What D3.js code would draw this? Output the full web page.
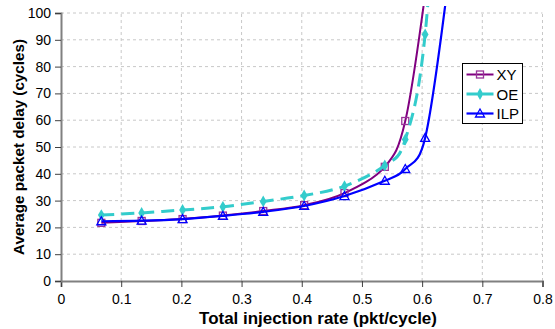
<!DOCTYPE html>
<html>
<head>
<meta charset="utf-8">
<script src="https://cdn.jsdelivr.net/npm/d3@7"></script>
<style>
  body { margin: 0; background: #fff; }
  svg { font-family: "Liberation Sans", Arial, sans-serif; }
  .tick text { font-size: 14px; fill: #000; }
  .axis-title { font-size: 14px; font-weight: bold; }
</style>
</head>
<body>
<div id="chart"></div>
<script>
// injection rates (pkt/cycle) at which the delays were measured
const rates = [0.067, 0.134, 0.202, 0.269, 0.336, 0.404, 0.471, 0.538, 0.572, 0.605, 0.639];
const xyDelay = [21.7, 22.4, 23.1, 24.4, 26.1, 28.3, 32.8, 42.6, 59.7, 107, null];
const oeDelay = [24.6, 25.4, 26.5, 27.7, 29.7, 31.9, 35.4, 43.1, 52.8, 92, 200];
const ilpDelay = [22.3, 22.5, 23.1, 24.3, 25.8, 28.0, 31.7, 37.4, 41.8, 53.4, 104];
const seriesNames = ['XY', 'OE', 'ILP'];
const xTicks = [0, 0.1, 0.2, 0.3, 0.4, 0.5, 0.6, 0.7, 0.8];
const yTicks = [0, 10, 20, 30, 40, 50, 60, 70, 80, 90, 100];

const width = 555, height = 329;
const margin = { top: 13, right: 12.5, bottom: 48, left: 61 };

const svg = d3.select('#chart').append('svg')
  .attr('width', width)
  .attr('height', height);

const x = d3.scaleLinear().domain([0, 0.8]).range([margin.left, width - margin.right]);
const y = d3.scaleLinear().domain([0, 100]).range([height - margin.bottom, margin.top]);

// dashed grid
svg.append('g')
  .selectAll('line')
  .data(xTicks.slice(1))
  .enter().append('line')
  .attr('x1', d => x(d)).attr('x2', d => x(d))
  .attr('y1', y(0)).attr('y2', y(100))
  .attr('stroke', '#c8c8c8').attr('stroke-dasharray', '3,3');

svg.append('g')
  .selectAll('line')
  .data(yTicks.slice(1))
  .enter().append('line')
  .attr('x1', x(0)).attr('x2', x(0.8))
  .attr('y1', d => y(d)).attr('y2', d => y(d))
  .attr('stroke', '#c8c8c8').attr('stroke-dasharray', '3,3');

// axes
const xAxis = svg.append('g')
  .attr('transform', `translate(0,${y(0)})`)
  .call(d3.axisBottom(x).tickValues(xTicks).tickFormat(d => d === 0 ? '0' : d3.format('.1f')(d)).tickSize(6).tickPadding(7));
const yAxis = svg.append('g')
  .attr('transform', `translate(${x(0)},0)`)
  .call(d3.axisLeft(y).tickValues(yTicks).tickSize(6).tickPadding(4));
[xAxis, yAxis].forEach(a => {
  a.select('.domain').attr('stroke', '#808080').attr('stroke-width', 2);
  a.selectAll('.tick line').attr('stroke', '#404040');
});

// axis titles, sized to the span they take in the original
function fitText(sel, target) {
  const w = sel.node().getComputedTextLength();
  if (w > 0) sel.style('font-size', (14 * target / w).toFixed(2) + 'px');
}

const xTitle = svg.append('text')
  .attr('class', 'axis-title')
  .attr('x', 318).attr('y', 324)
  .attr('text-anchor', 'middle')
  .text('Total injection rate (pkt/cycle)');
fitText(xTitle, 238);

const yTitle = svg.append('text')
  .attr('class', 'axis-title')
  .attr('transform', `translate(24,${(y(0) + y(100)) / 2}) rotate(-90)`)
  .attr('text-anchor', 'middle')
  .text('Average packet delay (cycles)');
fitText(yTitle, 216);

// clip region for the curves
svg.append('clipPath').attr('id', 'plot-clip')
  .append('rect')
  .attr('x', x(0)).attr('y', 6)
  .attr('width', x(0.8) - x(0)).attr('height', y(0) - 6);

const series = [
  { name: 'XY', values: xyDelay, color: '#800080', width: 2, dash: null, marker: 'square' },
  { name: 'OE', values: oeDelay, color: '#33cccc', width: 3, dash: '13,7', marker: 'diamond' },
  { name: 'ILP', values: ilpDelay, color: '#0000ff', width: 2.2, dash: null, marker: 'triangle' }
];

const line = d3.line()
  .x(d => x(d[0]))
  .y(d => y(d[1]))
  .curve(d3.curveCatmullRom.alpha(0));

function drawMarker(g, type, color) {
  if (type === 'square') {
    g.append('rect').attr('x', -3.5).attr('y', -3.5).attr('width', 7).attr('height', 7)
      .attr('fill', 'none').attr('stroke', '#993399').attr('stroke-width', 1.3);
  } else if (type === 'diamond') {
    g.append('path').attr('d', d3.symbol(d3.symbolDiamond, 40)())
      .attr('fill', color);
  } else {
    g.append('path').attr('d', 'M0,-4.5L4.5,3.5L-4.5,3.5Z')
      .attr('fill', 'none').attr('stroke', color).attr('stroke-width', 1.3);
  }
}

const plot = svg.append('g').attr('clip-path', 'url(#plot-clip)');
series.forEach(s => {
  const pts = rates.map((r, i) => [r, s.values[i]]).filter(p => p[1] != null);
  plot.append('path')
    .datum(pts)
    .attr('d', line)
    .attr('fill', 'none')
    .attr('stroke', s.color)
    .attr('stroke-width', s.width)
    .attr('stroke-dasharray', s.dash);
  pts.filter(p => p[1] <= 100).forEach(p => {
    const g = plot.append('g').attr('transform', `translate(${x(p[0])},${y(p[1])})`);
    drawMarker(g, s.marker, s.color);
  });
});

// legend
const legend = svg.append('g').attr('transform', 'translate(462.5,63.5)');
legend.append('rect')
  .attr('width', 60).attr('height', 60)
  .attr('fill', '#fff').attr('stroke', '#000').attr('stroke-width', 1);
series.forEach((s, i) => {
  const row = legend.append('g').attr('transform', `translate(0,${11 + i * 19.5})`);
  row.append('line')
    .attr('x1', 4).attr('x2', 31)
    .attr('stroke', s.color).attr('stroke-width', s.width)
    .attr('stroke-dasharray', s.dash ? '11,5' : null);
  const m = row.append('g').attr('transform', 'translate(17.5,0)');
  drawMarker(m, s.marker, s.color);
  row.append('text')
    .attr('x', 34).attr('y', 5.5)
    .style('font-size', '15px')
    .text(seriesNames[i]);
});
</script>
</body>
</html>
